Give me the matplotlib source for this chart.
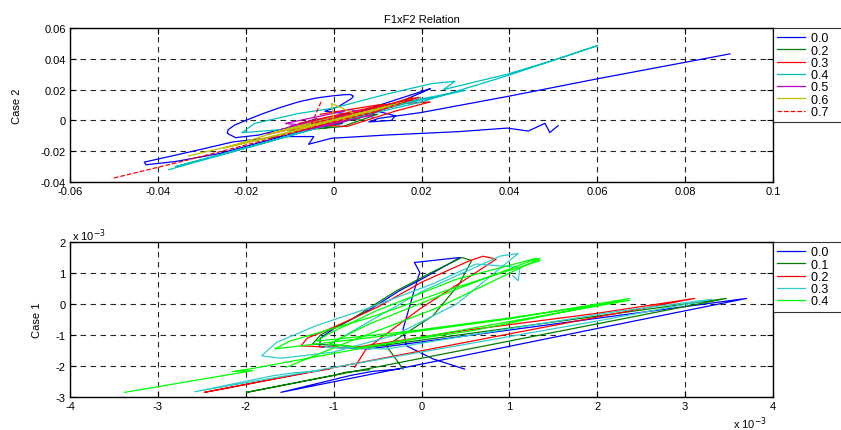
import matplotlib
matplotlib.use('Agg')
import matplotlib.pyplot as plt

plt.rcParams['font.family'] = ['Liberation Sans', 'DejaVu Sans']
plt.rcParams['axes.unicode_minus'] = False

# ---- Case 2 (top) ----
top_labels = ['0.0', '0.2', '0.3', '0.4', '0.5', '0.6', '0.7']
top_colors = ['#0000ff', '#007f00', '#ff0000', '#00bfbf', '#bf00bf', '#bfbf00', '#ff0000']
top_styles = ['-', '-', '-', '-', '-', '-', '--']

c2_00_x = [0.0511, 0.0492, 0.0481, 0.0443, 0.0395, 0.0284, 0.012, -0.0005, -0.0057, -0.0045, -0.012, -0.023,
           -0.0306, -0.0431, -0.0427, -0.036, -0.026, -0.015, -0.006, 0.002, -0.004, -0.011, -0.017, -0.0223,
           -0.0242, -0.0240, -0.0225, -0.0200, -0.0160, -0.0120, -0.0079, -0.0040, -0.0004, 0.0025, 0.0038,
           0.0045, 0.0041, 0.0011, -0.002, 0.004, 0.022, 0.020, 0.010, 0.014, 0.0132, 0.008, 0.0102, 0.0197,
           0.0395, 0.060, 0.0902]
c2_00_y = [-0.0034, -0.0079, -0.0019, -0.0069, -0.0050, -0.0073, -0.0095, -0.0116, -0.0155, -0.0105, -0.0105,
           -0.0140, -0.0191, -0.0271, -0.0288, -0.0267, -0.0215, -0.013, -0.006, -0.002, 0.001, -0.0052,
           -0.0095, -0.0112, -0.0084, -0.0060, -0.0030, 0.0000, 0.0045, 0.0085, 0.0121, 0.0145, 0.0159,
           0.0167, 0.0168, 0.0158, 0.0142, 0.009, 0.006, 0.004, 0.0206, 0.018, 0.006, 0.003, 0.0, -0.001,
           0.0013, 0.0050, 0.0155, 0.0270, 0.0432]

c2_02_x = [-0.010, 0.005, -0.003, 0.008, -0.006, 0.002, 0.010, -0.004, 0.006, -0.008, 0.004, 0.012, -0.002]
c2_02_y = [-0.007, 0.002, -0.003, 0.006, -0.006, -0.004, 0.004, 0.000, 0.001, -0.003, 0.005, 0.008, -0.005]

c2_03_x = [-0.015, 0.000, 0.018, 0.015, 0.000, -0.012, -0.005, 0.006, 0.020, 0.008, -0.008, 0.003, 0.014,
           0.022, 0.010, -0.003]
c2_03_y = [-0.009, 0.000, 0.015, 0.011, 0.002, -0.006, -0.005, 0.003, 0.014, 0.008, -0.002, -0.004, 0.006,
           0.012, 0.010, 0.004]

c2_04_x = [-0.0375, -0.025, -0.010, 0.005, 0.020, 0.0395, 0.0601, 0.050, 0.0395, 0.025, 0.0276, 0.0223,
           0.012, 0.000, -0.008, -0.018, -0.0209, -0.012, 0.000, 0.015, 0.030, 0.020, 0.005, -0.015, -0.036,
           -0.020, -0.005, 0.010, 0.0197]
c2_04_y = [-0.0320, -0.022, -0.010, 0.002, 0.012, 0.029, 0.0486, 0.039, 0.030, 0.020, 0.0254, 0.0239,
           0.017, 0.008, 0.0045, -0.002, -0.008, -0.006, 0.000, 0.010, 0.0195, 0.014, 0.003, -0.014, -0.030,
           -0.018, -0.006, 0.008, 0.015]

c2_05_x = [-0.012, 0.000, 0.010, -0.005, -0.010, 0.006, 0.002, -0.008, 0.008, 0.012, -0.003, -0.011,
           0.004, 0.009]
c2_05_y = [-0.006, 0.001, 0.008, -0.001, -0.004, 0.005, -0.001, -0.007, 0.003, 0.009, -0.004, -0.002,
           0.007, 0.002]

c2_06_x = [-0.033, -0.015, 0.000, 0.015, 0.005, -0.0005, 0.000, -0.010, -0.025, -0.010, 0.008, 0.012,
           -0.004, -0.014, 0.003, 0.016]
c2_06_y = [-0.023, -0.011, 0.000, 0.011, 0.004, 0.011, 0.002, -0.005, -0.018, -0.008, 0.006, 0.009,
           -0.002, -0.008, 0.001, 0.012]

c2_07_x = [-0.050, -0.035, -0.020, -0.008, 0.000, 0.010, 0.0193, 0.015, 0.005, -0.005, -0.0027]
c2_07_y = [-0.0374, -0.027, -0.016, -0.007, -0.001, 0.006, 0.015, 0.012, 0.005, -0.002, 0.0131]

# ---- Case 1 (bottom), values in units of 1e-3 ----
bot_labels = ['0.0', '0.1', '0.2', '0.3', '0.4']
bot_colors = ['#0000ff', '#007f00', '#ff0000', '#33cccc', '#00ff00']

c1_00_x = [0.49, 0.13, -0.17, -0.21, -0.10, -0.02, -0.08, 0.44, 0.00, -0.25, -0.60, -1.00, -1.15, -1.16,
           -0.60, 0.50, 2.00, 3.70, 2.00, 0.00, -1.60, -0.80, -0.55, -0.25]
c1_00_y = [-2.10, -1.77, -1.35, -0.81, 0.27, 1.02, 1.34, 1.50, 0.80, 0.43, -0.20, -0.80, -1.10, -1.38,
           -1.45, -1.03, -0.46, 0.18, -0.79, -1.94, -2.85, -2.30, -2.17, -2.10]

c1_01_x = [-0.21, -0.40, 0.13, 0.43, 0.57, 0.46, 0.10, -0.30, -0.80, -1.15, -1.24, -0.60, 0.50, 2.00,
           3.47, 2.00, 0.00, -1.99, -1.00, -0.86, -0.59]
c1_01_y = [-2.10, -1.35, -0.38, 0.65, 1.40, 1.50, 1.00, 0.40, -0.50, -1.00, -1.29, -1.40, -0.97, -0.39,
           0.18, -0.64, -1.75, -2.85, -2.30, -2.20, -2.12]

c1_02_x = [-0.76, -0.63, -0.02, 0.51, 0.85, 0.70, 0.55, 0.00, -0.50, -1.00, -1.30, -1.37, -0.80, 0.50,
           2.00, 3.11, 2.00, 0.00, -2.47, -1.50, -1.27, -1.05]
c1_02_y = [-2.04, -1.45, -0.16, 0.81, 1.45, 1.54, 1.40, 0.70, -0.10, -0.75, -1.10, -1.35, -1.42, -0.85,
           -0.30, 0.18, -0.42, -1.51, -2.85, -2.32, -2.20, -2.10]

c1_03_x = [1.04, 1.10, 1.12, 0.62, 0.13, -0.63, -1.20, -1.65, -1.82, -1.60, -1.00, -0.30, 0.40, 1.10,
           0.90, 0.00, -0.80, -1.10, -0.40, 1.00, 2.20, 3.30, 2.00, 0.00, -2.58, -1.70, -1.46, -1.16]
c1_03_y = [0.91, 0.75, 1.18, 1.29, 0.65, -0.16, -0.70, -1.24, -1.67, -1.75, -1.55, -1.00, 0.00, 1.63,
           1.55, 0.40, -0.90, -1.40, -1.45, -0.80, -0.25, 0.15, -0.55, -1.55, -2.83, -2.32, -2.22, -2.16]

c1_04_x = [-1.54, -0.90, 0.20, 1.35, 1.25, 0.32, -0.60, -1.05, -0.70, 0.60, 2.37, 1.00, -0.40, -1.67,
           -1.50, -0.60, 0.30, 1.35, 1.30, 0.40, -0.50, -1.05, -1.20, -0.20, 1.00, 2.37, 0.00, -1.92,
           -2.15, -1.92, -3.38]
c1_04_y = [-2.04, -1.30, -0.10, 1.47, 1.40, 0.39, -0.65, -1.29, -1.40, -0.85, 0.18, -0.48, -1.02, -1.45,
           -1.20, -0.45, 0.45, 1.40, 1.47, 0.80, -0.20, -0.95, -1.20, -0.90, -0.45, 0.12, -1.07, -2.08,
           -2.18, -2.15, -2.85]

top_series = [(c2_00_x, c2_00_y), (c2_02_x, c2_02_y), (c2_03_x, c2_03_y), (c2_04_x, c2_04_y),
              (c2_05_x, c2_05_y), (c2_06_x, c2_06_y), (c2_07_x, c2_07_y)]
bot_series = [(c1_00_x, c1_00_y), (c1_01_x, c1_01_y), (c1_02_x, c1_02_y), (c1_03_x, c1_03_y),
              (c1_04_x, c1_04_y)]

fig = plt.figure(figsize=(8.41, 4.31), dpi=100)
ax1 = fig.add_axes([70 / 841, 1 - 183 / 431, 703 / 841, 154 / 431])
ax2 = fig.add_axes([70 / 841, 1 - 398 / 431, 703 / 841, 155 / 431])

grid_style = dict(color='black', linestyle=(0, (5, 4)), linewidth=0.8, alpha=0.85)
leg_style = dict(loc='upper left', bbox_to_anchor=(1.0, 1.0), borderaxespad=0, fontsize=9,
                 frameon=True, fancybox=False, edgecolor='black', handlelength=2.2,
                 handletextpad=0.5, labelspacing=0.02, borderpad=0.35)

for (xs, ys), lab, col, ls in zip(top_series, top_labels, top_colors, top_styles):
    ax1.plot(xs, ys, color=col, linestyle=ls, linewidth=0.9, label=lab + '    ')
ax1.set_xlim(-0.06, 0.1)
ax1.set_ylim(-0.04, 0.06)
ax1.set_xticks([-0.06, -0.04, -0.02, 0, 0.02, 0.04, 0.06, 0.08, 0.1])
ax1.set_xticklabels(['-0.06', '-0.04', '-0.02', '0', '0.02', '0.04', '0.06', '0.08', '0.1'])
ax1.set_yticks([-0.04, -0.02, 0, 0.02, 0.04, 0.06])
ax1.set_yticklabels(['-0.04', '-0.02', '0', '0.02', '0.04', '0.06'])
ax1.set_title('F1xF2 Relation', fontsize=8, pad=4)
ax1.set_ylabel('Case 2', fontsize=8)
ax1.yaxis.set_label_coords(-0.068, 0.5)
leg1 = ax1.legend(**leg_style)
leg1.get_frame().set_linewidth(0.8)

for (xs, ys), lab, col in zip(bot_series, bot_labels, bot_colors):
    ax2.plot(xs, ys, color=col, linewidth=0.9, label=lab + '    ')
ax2.set_xlim(-4, 4)
ax2.set_ylim(-3, 2)
ax2.set_xticks(range(-4, 5))
ax2.set_yticks(range(-3, 3))
ax2.set_ylabel('Case 1', fontsize=8)
ax2.yaxis.set_label_coords(-0.040, 0.5)
leg2 = ax2.legend(**leg_style)
leg2.get_frame().set_linewidth(0.8)

for ax in (ax1, ax2):
    ax.grid(True, **grid_style)
    ax.tick_params(direction='in', top=True, right=True, length=4, width=0.8, labelsize=8, pad=3)
    for s in ax.spines.values():
        s.set_linewidth(1.0)

fig.text(72 / 841, 1 - 236 / 431, r'x 10$^{-3}$', fontsize=8, va='center', ha='left')
fig.text(733 / 841, 1 - 424 / 431, r'x 10$^{-3}$', fontsize=8, va='center', ha='left')

fig.savefig('out.png', dpi=100)
